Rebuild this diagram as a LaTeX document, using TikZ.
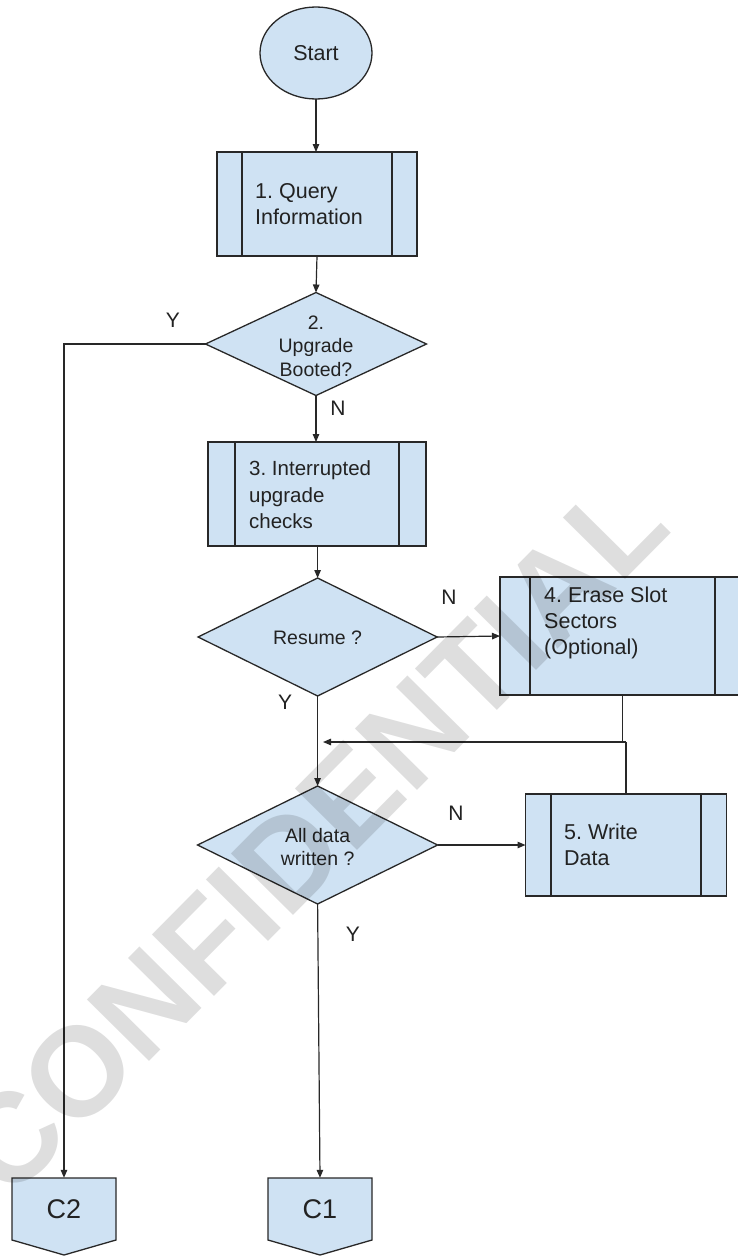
\documentclass[tikz,border=0pt]{standalone}
\usepackage{fontspec}
\setmainfont{Liberation Sans}
\usetikzlibrary{shapes.geometric,arrows.meta}
\definecolor{boxc}{RGB}{207,226,243}
\definecolor{bordc}{RGB}{40,40,40}
\definecolor{textc}{RGB}{34,34,34}
\newcommand\bxfont{\fontsize{21.5}{26}\selectfont}
\newcommand\bxfontb{\fontsize{20.5}{26.5}\selectfont}
\newcommand\dfont{\fontsize{19.5}{23.5}\selectfont}
\newcommand\lfont{\fontsize{21}{25}\selectfont}
\newcommand\cfont{\fontsize{27}{30}\selectfont}
\newcommand\wmfont{\fontsize{127}{130}\selectfont\bfseries}
\frenchspacing
\def\barw{25}
\tikzset{
  shp/.style={draw=bordc,line width=1.3pt,fill=boxc,inner sep=0pt,outer sep=0pt},
  barw/.code={\def\barw{#1}},
  procbox/.style={shp,rectangle,path picture={
    \draw[draw=bordc,line width=1.3pt]
      ([xshift=\barw pt]path picture bounding box.north west) -- ([xshift=\barw pt]path picture bounding box.south west)
      ([xshift=-\barw pt]path picture bounding box.north east) -- ([xshift=-\barw pt]path picture bounding box.south east);}},
  dia/.style={shp,diamond},
  ell/.style={shp,ellipse,font=\bxfont,text=textc},
  btext/.style={font=\bxfont,text=textc,align=left,anchor=west,inner sep=0pt},
  dtext/.style={font=\dfont,text=textc,align=center,inner sep=0pt},
  lab/.style={font=\lfont,text=textc,inner sep=0pt},
  conn/.style={draw=bordc,line width=1.2pt},
  arr/.style={conn,-{Triangle[length=8pt,width=6.5pt]}},
  ctext/.style={font=\cfont,text=textc,inner sep=0pt,minimum height=62pt,minimum width=104pt},
  wm/.style={font=\wmfont,text=black,opacity=0.13,rotate=45.3,inner sep=0pt}
}
\begin{document}
\begin{tikzpicture}[x=1pt,y=-1pt]
\useasboundingbox (0,0) rectangle (738,1256);
\clip (0,0) rectangle (738,1256);
\fill[white] (0,0) rectangle (738,1256);

% nodes
\node[ell,minimum width=112pt,minimum height=92pt] (start) at (316,53) {Start};
\node[procbox,barw=25,minimum width=200pt,minimum height=104pt] (b1) at (317,204) {};
\node[btext] (b1t) at (255,204) {1. Query\\Information};
\node[dia,minimum width=221pt,minimum height=103pt] (d2) at (316,344) {};
\node[dtext] (d2t) at (316,346) {2.\\Upgrade\\Booted?};
\node[procbox,barw=27,minimum width=218pt,minimum height=104pt] (b3) at (317,494) {};
\node[btext,font=\bxfontb] (b3t) at (249,495) {3. Interrupted\\upgrade\\checks};
\node[dia,minimum width=239pt,minimum height=118pt] (res) at (317.6,637) {};
\node[dtext] (rest) at (317.6,638) {Resume ?};
\node[procbox,barw=30,minimum width=245pt,minimum height=118pt] (b4) at (622.5,636) {};
\node[btext] (b4t) at (544,623) {4. Erase Slot\\Sectors\\(Optional)};
\node[dia,minimum width=240pt,minimum height=118pt] (ad) at (317.6,845) {};
\node[dtext] (adt) at (317.6,847) {All data\\written ?};
\node[procbox,barw=25.5,minimum width=201pt,minimum height=102pt] (b5) at (626,845) {};
\node[btext] (b5t) at (564,845) {5. Write\\Data};

% off-page connectors
\filldraw[shp] (12,1178) -- (116,1178) -- (116,1240) -- (64,1255) -- (12,1240) -- cycle;
\node[ctext] (c2) at (64,1209) {C2};
\filldraw[shp] (268,1178) -- (372,1178) -- (372,1240) -- (320,1255) -- (268,1240) -- cycle;
\node[ctext] (c1) at (320,1209) {C1};

% connectors
\draw[arr] (start.south) -- (b1.north -| start.south);
\draw[arr] (b1.south) -- (d2.north);
\draw[arr] (d2.west) -| (c2.north);
\draw[arr] (d2.south) -- (b3.north -| d2.south);
\draw[arr] (b3.south -| res.north) -- (res.north);
\draw[arr] (res.east) -- (b4.west);
\draw[arr] (res.south) -- (ad.north);
\coordinate (j) at (626,742);
\coordinate (m) at (323,742);
\draw[conn] (b4.south) -- (b4.south |- j) -- (j);
\draw[conn] (b5.north) -- (j);
\draw[arr] (j) -- (m);
\draw[arr] (ad.east) -- (b5.west);
\draw[arr] (ad.south) -- (c1.north);

% labels
\node[lab] (ly1) at (173,320) {Y};
\node[lab] (ln1) at (338,408) {N};
\node[lab] (ln2) at (449,597) {N};
\node[lab] (ly2) at (285,702) {Y};
\node[lab] (ln3) at (456,813) {N};
\node[lab] (ly3) at (353,934) {Y};

% watermark
\node[wm] (wmk) at (311,836) {CONFIDENTIAL};
\end{tikzpicture}
\end{document}
